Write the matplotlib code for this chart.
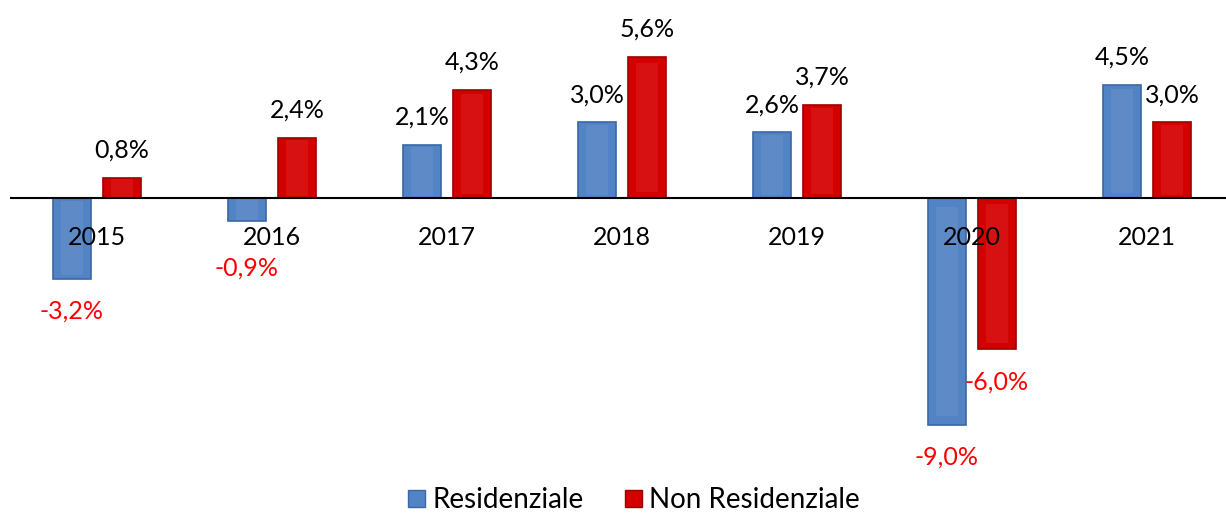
import matplotlib
matplotlib.use("Agg")
import matplotlib.pyplot as plt
from matplotlib.patches import Patch
import numpy as np

years = ["2015", "2016", "2017", "2018", "2019", "2020", "2021"]
residenziale = [-3.2, -0.9, 2.1, 3.0, 2.6, -9.0, 4.5]
non_residenziale = [0.8, 2.4, 4.3, 5.6, 3.7, -6.0, 3.0]
series_names = ["Residenziale", "Non Residenziale"]

BLUE, BLUE_EDGE = "#5283C4", "#3B68A3"
RED, RED_EDGE = "#D40000", "#9E0000"

plt.rcParams["font.family"] = ["Lato", "DejaVu Sans"]

fig = plt.figure(figsize=(12.26, 5.15), dpi=100)
ax = fig.add_axes([9.5 / 1226, 0, 1225 / 1226, 1])

x = np.arange(len(years))
w, off = 0.217, 0.143

for vals, dx, fc, ec in [(residenziale, -off, BLUE, BLUE_EDGE),
                         (non_residenziale, off, RED, RED_EDGE)]:
    ax.bar(x + dx, vals, width=w, color=fc, edgecolor=ec, linewidth=1.2, zorder=2)
    # soft inner band to mimic the bevel look
    ax.bar(x + dx, [v * 0.92 for v in vals], width=w * 0.6,
           bottom=[v * 0.04 for v in vals], color="white", alpha=0.07,
           linewidth=0, zorder=3)
    for xi, v in zip(x + dx, vals):
        lab = f"{v:.1f}%".replace(".", ",")
        if v >= 0:
            ax.text(xi, v + 1.1, lab, ha="center", va="center",
                    fontsize=18, color="black", zorder=5)
        else:
            ax.text(xi, min(v - 1.3, -2.8), lab, ha="center", va="center",
                    fontsize=18, color="#FF0000", zorder=5)

for xi, yr in zip(x, years):
    ax.text(xi, -1.55, yr, ha="center", va="center", fontsize=18,
            color="black", zorder=6)

ax.axhline(0, color="black", lw=1.5, zorder=4)
ax.set_xlim(-0.5, 6.5)
ax.set_ylim(-(515 - 198) / 25.2, 198 / 25.2)
ax.axis("off")

handles = [Patch(facecolor=BLUE, edgecolor=BLUE_EDGE),
           Patch(facecolor=RED, edgecolor=RED_EDGE)]
fig.legend(handles, series_names, loc="lower center", ncol=2, frameon=False,
           fontsize=20, bbox_to_anchor=(0.517, -0.045), handlelength=0.6,
           handleheight=0.6, handletextpad=0.25, columnspacing=1.5)

fig.savefig("out.png", dpi=100)
